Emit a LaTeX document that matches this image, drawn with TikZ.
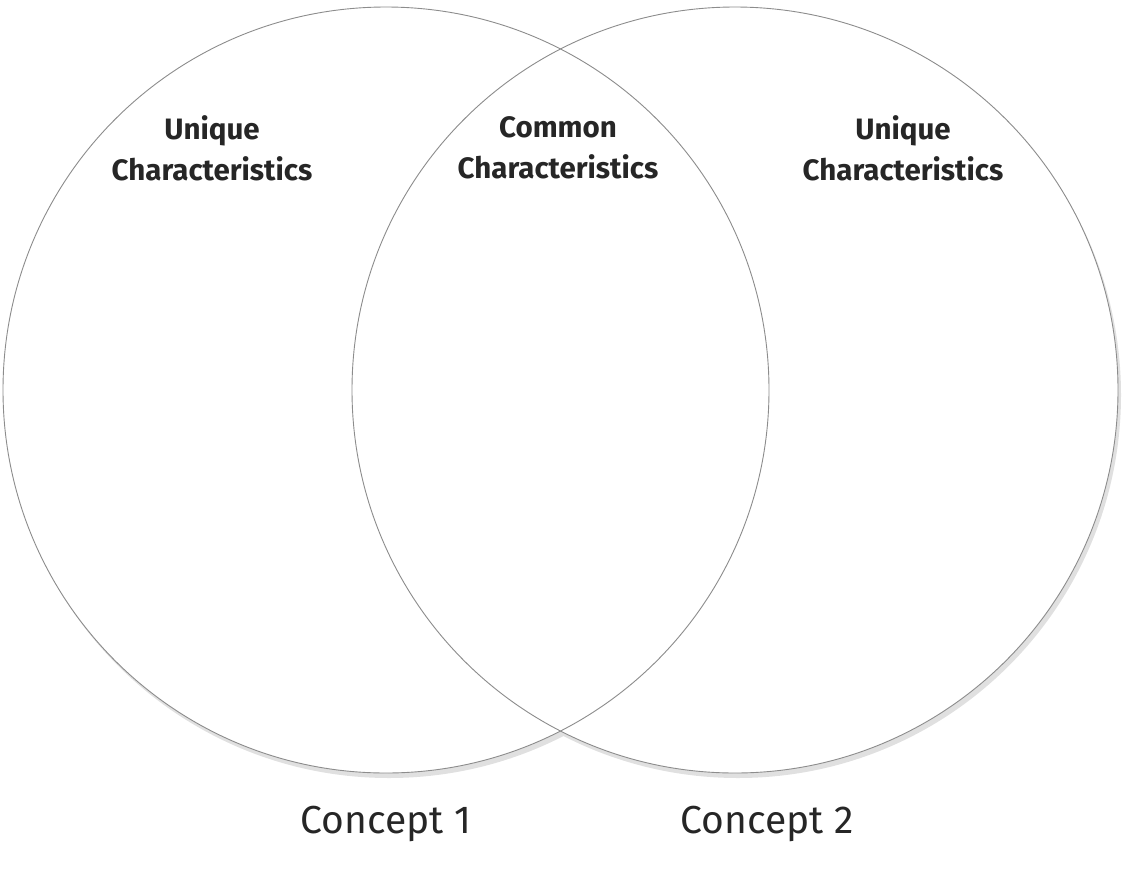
\documentclass[tikz,border=0pt]{standalone}
\usepackage{fontspec}
\setmainfont{Fira Sans}
\begin{document}
\begin{tikzpicture}[x=1pt,y=-1pt,
  ring/.style={draw=black!45, line width=0.9pt},
  shade/.style={fill=black!12},
  head/.style={font=\bfseries\fontsize{29.5}{41}\selectfont, text=black!85, align=center},
  conceptlabel/.style={font=\fontsize{39}{44}\selectfont, text=black!85}]
\useasboundingbox (0,0) rectangle (1122,871);
\coordinate (c1) at (386,390);
\coordinate (c2) at (735,390);
% shadows
\fill[shade] ([shift={(3,5)}]c1) circle (383);
\fill[shade] ([shift={(3,5)}]c2) circle (383);
\fill[white] (c1) circle (383);
\fill[white] (c2) circle (383);
\draw[ring] (c1) circle (383);
\draw[ring] (c2) circle (383);
\node[head] (u1) at (212,148) {Unique\\Characteristics};
\node[head] (cm) at (558,148) {Common\\Characteristics};
\node[head] (u2) at (903,148) {Unique\\Characteristics};
\node[conceptlabel] (k1) at (386,824) {Concept 1};
\node[conceptlabel] (k2) at (767,824) {Concept 2};
\end{tikzpicture}
\end{document}
